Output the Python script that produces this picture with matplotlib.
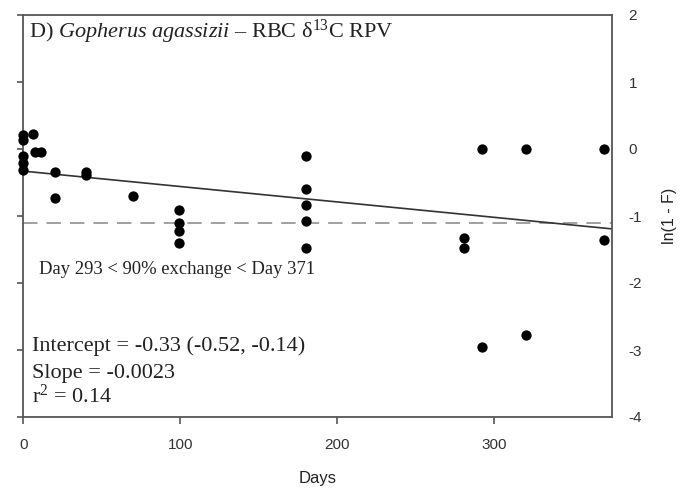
import matplotlib
matplotlib.use("Agg")
import matplotlib.pyplot as plt
import numpy as np

plt.rcParams["mathtext.fontset"] = "custom"
plt.rcParams["mathtext.rm"] = "Liberation Serif"
plt.rcParams["mathtext.it"] = "Liberation Serif:italic"
plt.rcParams["axes.unicode_minus"] = False
plt.rcParams["font.family"] = ["Liberation Sans", "DejaVu Sans"]

days = [0, 0, 0, 0, 0, 6, 7.5, 11, 20, 20, 40, 40, 70,
        99, 99, 99, 99, 180, 180, 180, 180, 180,
        281, 281, 292, 292, 320, 320, 370, 370]
values = [0.21, 0.13, -0.11, -0.21, -0.32, 0.22, -0.04, -0.04, -0.35, -0.73, -0.34, -0.39, -0.70,
          -0.91, -1.10, -1.23, -1.40, -0.11, -0.59, -0.84, -1.07, -1.48,
          -1.33, -1.48, 0.0, -2.95, 0.0, -2.78, 0.0, -1.36]
intercept = -0.33
slope = -0.0023
threshold = -1.1
xlim = (0, 375)
ylim = (-4, 2)
xticks = [0, 100, 200, 300]
yticks = [-4, -3, -2, -1, 0, 1, 2]

fig = plt.figure(figsize=(6.81, 4.95), dpi=100)
ax = fig.add_axes([23.3/681, 1 - 417/495, (612 - 23.3)/681, (417 - 15)/495])
ax.set_xlim(*xlim)
ax.set_ylim(*ylim)

spine_c = "#555555"
for s in ax.spines.values():
    s.set_color(spine_c)
    s.set_linewidth(1.3)

xx = np.array(xlim, dtype=float)
ax.plot(xx, intercept + slope * xx, color="#333333", lw=1.2, zorder=2)
ax.axhline(threshold, color="#999999", lw=1.3, dashes=(8, 5), zorder=1)
ax.scatter(days, values, s=55, color="black", zorder=3, clip_on=False, linewidths=0)

ax.set_xticks(xticks)
ax.set_yticks(yticks)
ax.tick_params(axis="x", direction="out", length=5, width=1.2, color=spine_c,
               labelsize=11, labelcolor="#333333", pad=10)
ax.tick_params(axis="y", left=True, right=False, labelleft=False, labelright=True,
               direction="out", length=4, width=1.2, color=spine_c,
               labelsize=11, labelcolor="#333333", pad=8)
ax.yaxis.set_label_position("right")
ax.set_ylabel("ln(1 - F)", fontsize=11.5, color="#222222", labelpad=14)
ax.set_xlabel("Days", fontsize=12, color="#222222", labelpad=14)

serif = "Liberation Serif"
ax.annotate(r"D) $\mathit{Gopherus\ agassizii}$ – RBC δ$^{\mathrm{13}}$C RPV",
            xy=(29/681, 1 - 38/495), xycoords="figure fraction",
            fontsize=16, family=serif, color="#222222", va="baseline")
ax.annotate("Day 293 < 90% exchange < Day 371",
            xy=(39/681, 1 - 274/495), xycoords="figure fraction",
            fontsize=13.4, family=serif, color="#222222", va="baseline")
for txt, yb in [("Intercept = -0.33 (-0.52, -0.14)", 351),
                ("Slope = -0.0023", 378),
                (r"r$^{\mathrm{2}}$ = 0.14", 403)]:
    ax.annotate(txt, xy=(32/681, 1 - yb/495), xycoords="figure fraction",
                fontsize=16, family=serif, color="#222222", va="baseline")

fig.savefig("out.png", dpi=100)
